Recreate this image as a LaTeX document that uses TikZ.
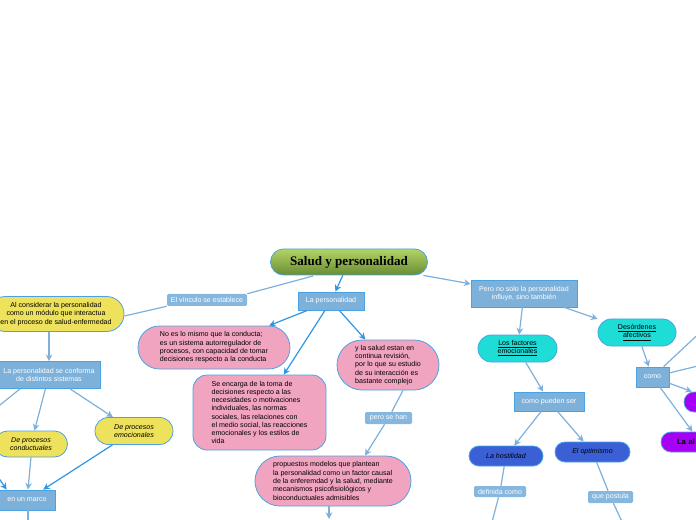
\documentclass[tikz,border=0pt]{standalone}
\usepackage{fontspec}
\setmainfont{Liberation Sans}
\newfontfamily\titlefont{Liberation Serif}
\usetikzlibrary{arrows.meta,calc}
\definecolor{boxblue}{HTML}{7EB1DA}
\definecolor{tagblue}{HTML}{86B7DE}
\definecolor{edgeblue}{HTML}{4AA2E2}
\definecolor{pinkc}{HTML}{F1A4C0}
\definecolor{yellowc}{HTML}{EEE25C}
\definecolor{cyanc}{HTML}{1EDCD6}
\definecolor{royalc}{HTML}{3B60D6}
\definecolor{purplec}{HTML}{A600F5}
\definecolor{brightline}{HTML}{2E96E6}
\definecolor{lightline}{HTML}{7DB1DC}
\definecolor{gtop}{HTML}{B2D466}
\definecolor{gbot}{HTML}{6A8C33}
\tikzset{
  small/.style={font=\fontsize{5.3}{6.2}\selectfont},
  base/.style={inner sep=0pt, small, draw=edgeblue, line width=0.6pt},
  bluebox/.style={base, fill=boxblue, text=white, align=center},
  tagbox/.style={inner sep=0pt, small, fill=tagblue, text=white, rounded corners=1pt},
  pinkbox/.style={base, fill=pinkc, align=left},
  yellowbox/.style={base, fill=yellowc, align=center},
  cyanbox/.style={base, fill=cyanc, align=center},
  royalbox/.style={base, fill=royalc, align=center, font=\fontsize{5.3}{6.2}\selectfont\itshape},
  purplebox/.style={base, fill=purplec, rounded corners=7.5pt},
  conn/.style={draw=brightline, line width=0.9pt, -{Stealth[length=5pt,width=5pt]}},
  lconn/.style={draw=lightline, line width=0.9pt, -{Stealth[length=5pt,width=5pt]}},
  lline/.style={draw=lightline, line width=0.9pt},
  bline/.style={draw=brightline, line width=0.9pt},
}
\begin{document}
\begin{tikzpicture}[x=0.75pt,y=-0.75pt]
\useasboundingbox (0,0) rectangle (696,520);
% nodes
\node[base, top color=gtop, bottom color=gbot, rounded corners=9.75pt,
  minimum width=117.75pt, minimum height=19.5pt,
  font=\titlefont\fontsize{9.8}{11}\selectfont\bfseries] (title) at (349,262) {Salud y personalidad};
\node[bluebox, minimum width=49.5pt, minimum height=13.5pt] (lap) at (331,301) {La personalidad};
\node[tagbox, minimum width=60pt, minimum height=9pt] (vinculo) at (207,300) {El vínculo se establece};
\node[yellowbox, rounded corners=13pt, minimum width=102pt, minimum height=26.25pt] (alc) at (56,314)
  {Al considerar la personalidad\\como un módulo que interactua\\en el proceso de salud-enfermedad};
\node[bluebox, minimum width=76.5pt, minimum height=20.25pt] (lcon) at (49,375)
  {La personalidad se conforma\\de distintos sistemas};
\node[yellowbox, rounded corners=9.75pt, minimum width=54.75pt, minimum height=19.5pt,
  font=\fontsize{5.3}{6.2}\selectfont\itshape] (cond) at (31,444) {De procesos\\conductuales};
\node[yellowbox, rounded corners=10pt, minimum width=58.5pt, minimum height=20.25pt,
  font=\fontsize{5.3}{6.2}\selectfont\itshape] (emoc) at (134,431) {De procesos\\emocionales};
\node[bluebox, minimum width=42pt, minimum height=15pt] (marco) at (27,500) {en un marco};
\node[pinkbox, rounded corners=16pt, minimum width=114pt, minimum height=32.25pt] (noes) at (214,347.5)
  {No es lo mismo que la conducta;\\es un sistema autorregulador de\\procesos, con capacidad de tomar\\decisiones respecto a la conducta};
\node[pinkbox, rounded corners=10.5pt, minimum width=99.75pt, minimum height=56.25pt] (se) at (259.5,412.5)
  {Se encarga de la toma de\\decisiones respecto a las\\necesidades o motivaciones\\individuales, las normas\\sociales, las relaciones con\\el medio social, las reacciones\\emocionales y los estilos de\\vida};
\node[pinkbox, rounded corners=18.75pt, minimum width=76.5pt, minimum height=37.5pt] (ysal) at (388,365)
  {y la salud estan en\\continua revisión,\\por lo que su estudio\\de su interacción es\\bastante complejo};
\node[tagbox, minimum width=35.25pt, minimum height=9pt] (perohan) at (388.5,418) {pero se han};
\node[pinkbox, rounded corners=18.75pt, minimum width=117pt, minimum height=37.5pt] (prop) at (333,481)
  {propuestos modelos que plantean\\la personalidad como un factor causal\\de la enferemdad y la salud, mediante\\mecanismos psicofisiológicos y\\bioconductuales admisibles};
\node[bluebox, minimum width=79.5pt, minimum height=20.25pt] (pero) at (524,293.5)
  {Pero no solo la personalidad\\influye, sino también};
\node[cyanbox, rounded corners=10pt, minimum width=59.25pt, minimum height=20.25pt] (fact) at (517.5,348.5)
  {\underline{Los factores}\\\underline{emocionales}};
\node[cyanbox, rounded corners=10pt, minimum width=58.5pt, minimum height=20.25pt] (deso) at (637,332.5)
  {\underline{Desórdenes}\\\underline{afectivos}};
\node[bluebox, minimum width=52.5pt, minimum height=14.25pt] (cps) at (549,401.5) {como pueden ser};
\node[royalbox, rounded corners=7.5pt, minimum width=55.5pt, minimum height=15pt] (host) at (506,456) {La hostilidad};
\node[royalbox, rounded corners=7.5pt, minimum width=56.25pt, minimum height=15pt] (opt) at (592.5,452) {El optimismo};
\node[tagbox, minimum width=39pt, minimum height=8.25pt] (def) at (500,491.5) {definida como};
\node[tagbox, minimum width=33.75pt, minimum height=9pt] (post) at (610.5,497) {que postula};
\node[bluebox, minimum width=24.75pt, minimum height=15pt] (como) at (652.5,377) {como};
\node[purplebox, minimum width=54pt, minimum height=15pt] (pur) at (720,402) {};
\node[purplebox, minimum height=15pt, inner xsep=12pt, text width=34.5pt, align=left,
  font=\fontsize{5.8}{7}\selectfont\bfseries] (laal) at (700,442) {La al};
% free ends
\coordinate (propend) at (329,519);
\coordinate (lconout) at (-20,421);
\coordinate (marcoin) at (-8,468);
\coordinate (marcoout) at (28,526);
\coordinate (hostout) at (491,526);
\coordinate (optout) at (624,526);
\coordinate (comoout1) at (706,327);
\coordinate (comoout2) at (706,364);
% connectors
\draw[conn] (title) -- (lap);
\draw[lconn] (title) -- (pero);
\draw[lline] ($(title.center)+(-36,14)$) -- (vinculo.north east);
\draw[lline] (vinculo.south west) -- ($(alc.east)+(0,2)$);
\draw[conn] (lap) -- (noes);
\draw[conn] (lap) -- (se);
\draw[conn] (lap) -- (ysal);
\draw[lline] ($(ysal.south)+(15,0)$) -- (perohan);
\draw[lconn] (perohan) -- ($(prop.north)+(32,0)$);
\draw[lconn] ($(prop.south)+(-4,0)$) -- (propend);
\draw[lconn] ($(alc.south)+(-7,0)$) -- (lcon.north);
\draw[lconn] (lcon) -- (cond);
\draw[lconn] (lcon) -- (emoc);
\draw[lline] ($(lcon.south)+(-29,0)$) -- (lconout);
\draw[lconn] (cond.south) -- ($(marco.north)+(1,0)$);
\draw[conn] (emoc) -- (marco);
\draw[conn] (marcoin) -- ($(marco.north west)+(8,0)$);
\draw[lline] ($(marco.south)+(1,0)$) -- (marcoout);
\draw[lconn] (pero) -- (fact);
\draw[lconn] (pero) -- (deso);
\draw[lconn] (fact) -- (cps);
\draw[lconn] (cps) -- (host);
\draw[lconn] (cps) -- (opt);
\draw[lline] (host) -- (def);
\draw[lline] (def) -- (hostout);
\draw[lline] (opt) -- (post);
\draw[lline] (post) -- (optout);
\draw[lconn] (deso) -- (como);
\draw[lline] (como) -- (comoout1);
\draw[lline] (como) -- (comoout2);
\draw[lconn] (como) -- (pur);
\draw[lconn] (como) -- (laal);
\end{tikzpicture}
\end{document}
